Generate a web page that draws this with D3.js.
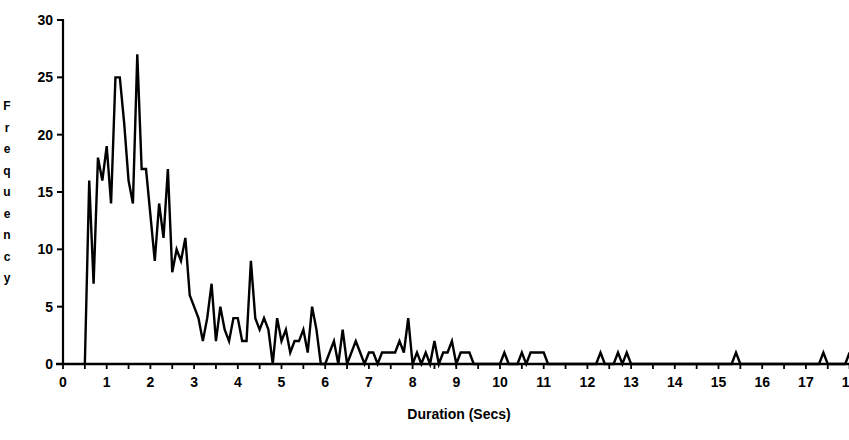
<!DOCTYPE html>
<html>
<head>
<meta charset="utf-8">
<script src="https://cdn.jsdelivr.net/npm/d3@7/dist/d3.min.js"></script>
<style>
  html, body { margin: 0; padding: 0; background: #fff; }
  svg { display: block; }
  text { font-family: "Liberation Sans", Arial, sans-serif; font-weight: bold; fill: #000; }
</style>
</head>
<body>
<svg id="chart" width="849" height="440"></svg>
<script>
// ---- data (counts per 0.1 s bin, first bin at 0.5 s) ----
const firstBin = 0.5;
const binWidth = 0.1;
const counts = [
  0, 16, 7, 18, 16, 19, 14, 25, 25, 21,      // 0.5 - 1.4
  16, 14, 27, 17, 17, 13, 9, 14, 11, 17,     // 1.5 - 2.4
  8, 10, 9, 11, 6, 5, 4, 2, 4, 7,            // 2.5 - 3.4
  2, 5, 3, 2, 4, 4, 2, 2, 9, 4,              // 3.5 - 4.4
  3, 4, 3, 0, 4, 2, 3, 1, 2, 2,              // 4.5 - 5.4
  3, 1, 5, 3, 0, 0, 1, 2, 0, 3,              // 5.5 - 6.4
  0, 1, 2, 1, 0, 1, 1, 0, 1, 1,              // 6.5 - 7.4
  1, 1, 2, 1, 4, 0, 1, 0, 1, 0,              // 7.5 - 8.4
  2, 0, 1, 1, 2, 0, 1, 1, 1, 0,              // 8.5 - 9.4
  0, 0, 0, 0, 0, 0, 1, 0, 0, 0,              // 9.5 - 10.4
  1, 0, 1, 1, 1, 1, 0, 0, 0, 0,              // 10.5 - 11.4
  0, 0, 0, 0, 0, 0, 0, 0, 1, 0,              // 11.5 - 12.4
  0, 0, 1, 0, 1, 0, 0, 0, 0, 0,              // 12.5 - 13.4
  0, 0, 0, 0, 0, 0, 0, 0, 0, 0,              // 13.5 - 14.4
  0, 0, 0, 0, 0, 0, 0, 0, 0, 1,              // 14.5 - 15.4
  0, 0, 0, 0, 0, 0, 0, 0, 0, 0,              // 15.5 - 16.4
  0, 0, 0, 0, 0, 0, 0, 0, 0, 1,              // 16.5 - 17.4
  0, 0, 0, 0, 0, 1                           // 17.5 - 18.0
];
const durations = counts.map((_, i) => +(firstBin + i * binWidth).toFixed(1));

const yTicks = [0, 5, 10, 15, 20, 25, 30];
const xMajorTicks = [0, 1, 2, 3, 4, 5, 6, 7, 8, 9, 10, 11, 12, 13, 14, 15, 16, 17, 18];
const xMinorTicks = [0.5, 1.5, 2.5, 3.5, 4.5, 5.5, 6.5, 7.5, 8.5, 9.5, 10.5, 11.5, 12.5, 13.5, 14.5, 15.5, 16.5, 17.5];
const xTitle = "Duration (Secs)";
const yTitle = "Frequency";

// ---- layout ----
const svg = d3.select("#chart");
const x = d3.scaleLinear().domain([0, 18]).range([63, 849.6]);
const y = d3.scaleLinear().domain([0, 30]).range([364, 20]);

// data line
const line = d3.line()
  .x((d, i) => x(durations[i]))
  .y(d => y(d));

svg.append("path")
  .datum(counts)
  .attr("d", line)
  .attr("fill", "none")
  .attr("stroke", "#000")
  .attr("stroke-width", 2.4)
  .attr("stroke-linejoin", "miter");

// y axis
const yAxis = svg.append("g").attr("transform", `translate(${x(0)},0)`);
yAxis.append("line")
  .attr("x1", 0).attr("x2", 0)
  .attr("y1", y(30) - 1).attr("y2", y(0))
  .attr("stroke", "#000").attr("stroke-width", 2.2);
yAxis.selectAll("line.tick").data(yTicks).join("line")
  .attr("class", "tick")
  .attr("x1", -6).attr("x2", 0)
  .attr("y1", d => y(d)).attr("y2", d => y(d))
  .attr("stroke", "#000").attr("stroke-width", 2);
yAxis.selectAll("text").data(yTicks).join("text")
  .attr("x", -10)
  .attr("y", d => y(d))
  .attr("dy", "0.36em")
  .attr("text-anchor", "end")
  .style("font-size", "14px")
  .text(d => d);

// x axis
const xAxis = svg.append("g").attr("transform", `translate(0,${y(0)})`);
xAxis.append("line")
  .attr("x1", x(0) - 7).attr("x2", 860)
  .attr("y1", 0).attr("y2", 0)
  .attr("stroke", "#000").attr("stroke-width", 2.6);
xAxis.selectAll("line.tick").data(xMajorTicks.concat(xMinorTicks)).join("line")
  .attr("class", "tick")
  .attr("x1", d => x(d)).attr("x2", d => x(d))
  .attr("y1", 0).attr("y2", 5)
  .attr("stroke", "#000").attr("stroke-width", 1.8);
xAxis.selectAll("text").data(xMajorTicks).join("text")
  .attr("x", d => x(d))
  .attr("y", 23)
  .attr("text-anchor", "middle")
  .style("font-size", "14px")
  .text(d => d);

// x title
svg.append("text")
  .attr("x", 459)
  .attr("y", 419)
  .attr("text-anchor", "middle")
  .style("font-size", "14px")
  .text(xTitle);

// y title: stacked letters
const letters = yTitle.split("");
const yl = d3.scaleLinear().domain([0, letters.length - 1]).range([106, 278]);
svg.append("g").selectAll("text").data(letters).join("text")
  .attr("x", 7)
  .attr("y", (d, i) => yl(i))
  .attr("dy", "0.36em")
  .attr("text-anchor", "middle")
  .style("font-size", "12px")
  .text(d => d);
</script>
</body>
</html>
